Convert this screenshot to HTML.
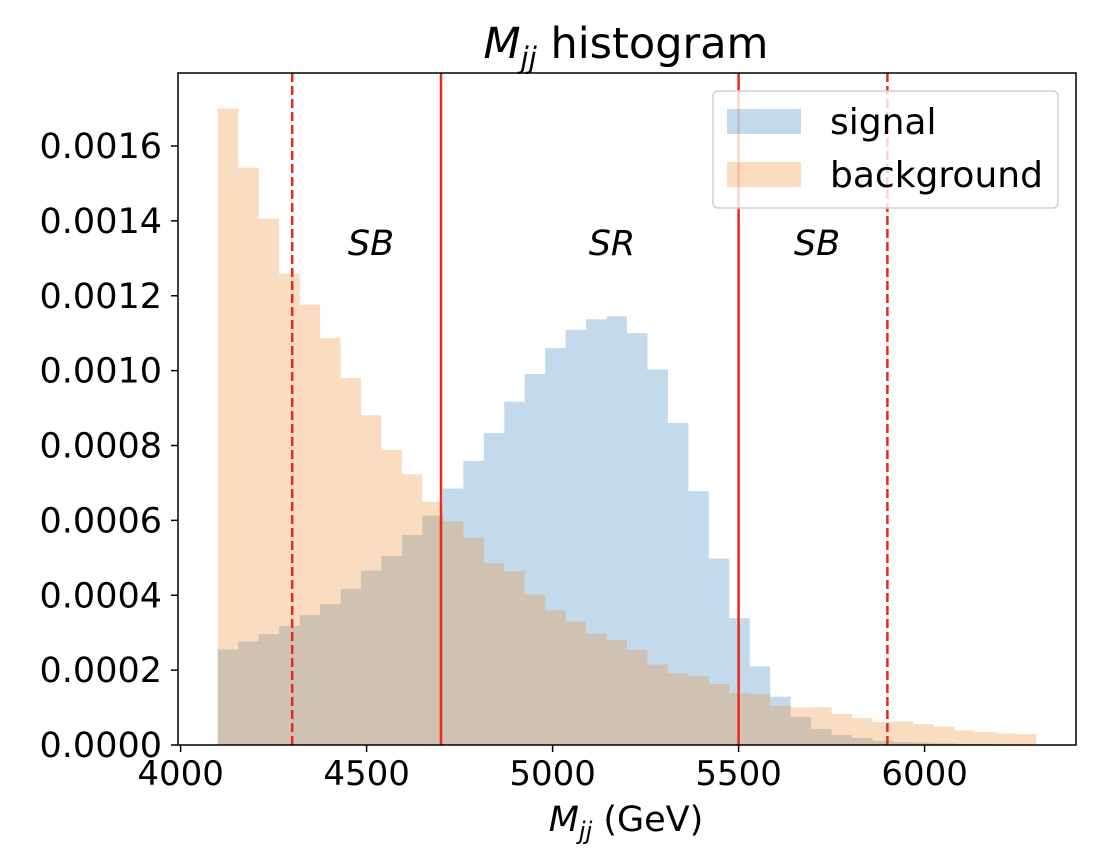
<!DOCTYPE html>
<html><head><meta charset="utf-8"><style>
html,body{margin:0;padding:0;background:#fff;}
svg text{font-family:"DejaVu Sans","Liberation Sans",sans-serif;fill:#000;}
</style></head><body>
<svg id="chart" width="1104" height="860" viewBox="0 0 1104 860" xmlns="http://www.w3.org/2000/svg">
<g id="bars"></g>
<g id="lines"></g>
<g id="axes"></g>
<text x="626" y="58" font-size="43" text-anchor="middle"><tspan font-style="italic">M</tspan><tspan font-style="italic" font-size="29" dy="10">jj</tspan><tspan dy="-10"> histogram</tspan></text>
<text x="626" y="831" font-size="35" text-anchor="middle"><tspan font-style="italic">M</tspan><tspan font-style="italic" font-size="24" dy="8">jj</tspan><tspan dy="-8"> (GeV)</tspan></text>
<text x="371" y="255" font-size="35" font-style="italic" text-anchor="middle">SB</text>
<text x="612" y="255" font-size="35" font-style="italic" text-anchor="middle">SR</text>
<text x="817" y="255" font-size="35" font-style="italic" text-anchor="middle">SB</text>
<g>
<rect x="713" y="91" width="345" height="117" rx="5" fill="#fff" fill-opacity="0.8" stroke="#d0d0d0" stroke-width="1.5"/>
<rect x="727" y="109" width="74" height="25" fill="#1f77b4" fill-opacity="0.27"/>
<text x="830" y="134" font-size="36">signal</text>
<rect x="727" y="162" width="74" height="25" fill="#f08a30" fill-opacity="0.3"/>
<text x="830" y="187" font-size="36">background</text>
</g>
</svg>
<script>
const binStart = 4100;
const binWidth = 55;
const background = [0.0017,0.001542,0.001406,0.001259,0.001176,0.001087,0.00098,0.000881,0.000788,0.000723,0.00065,0.000598,0.000553,0.000486,0.000464,0.000402,0.00036,0.00033,0.000298,0.00028,0.000254,0.000215,0.000192,0.000185,0.000163,0.000139,0.000136,0.000105,0.0001,0.000101,0.0000828,0.0000721,0.0000614,0.0000632,0.000056,0.000049,0.000039,0.000035,0.000031,0.000029];
const signal = [0.000255,0.000277,0.000296,0.000318,0.000347,0.000376,0.000417,0.000466,0.000505,0.000561,0.000613,0.000685,0.000759,0.000833,0.000917,0.000991,0.00106,0.001109,0.001137,0.001145,0.0011,0.001003,0.00086,0.000678,0.000498,0.000339,0.00021,0.000129,0.0000748,0.0000427,0.0000267,0.0000187,0.0000107,0.000008,0.000006,0.0000045,0.000003,0.000002,0.0000015,0.000001];
const xTicks = [4000,4500,5000,5500,6000];
const yTicks = [0,0.0002,0.0004,0.0006,0.0008,0.0010,0.0012,0.0014,0.0016];
const yTickLabels = ["0.0000","0.0002","0.0004","0.0006","0.0008","0.0010","0.0012","0.0014","0.0016"];
const solidLines = [4700,5500];
const dashedLines = [4300,5900];

const L=178,R=1076,T=73,B=745, xMin=3993,xMax=6407,yMax=0.001795;
const X=v=>L+(v-xMin)/(xMax-xMin)*(R-L);
const Y=v=>B-v/yMax*(B-T);
const NS="http://www.w3.org/2000/svg";
function mk(tag,attrs,parent){const e=document.createElementNS(NS,tag);for(const k in attrs)e.setAttribute(k,attrs[k]);parent.appendChild(e);return e;}
const bars=document.getElementById('bars'),lines=document.getElementById('lines'),axes=document.getElementById('axes');
function drawSeries(arr,color,op,name){
  arr.forEach((v,i)=>{
    const x0=X(binStart+i*binWidth),x1=X(binStart+(i+1)*binWidth);
    const r=mk('rect',{x:x0,y:Y(v),width:x1-x0,height:B-Y(v),fill:color,'fill-opacity':op},bars);
    
    
  });
}
drawSeries(signal,'#1f77b4',0.27,'signal');
drawSeries(background,'#f08a30',0.3,'background');
solidLines.forEach(v=>{
  const l=mk('line',{x1:X(v),x2:X(v),y1:T,y2:B,stroke:'#e8291c','stroke-width':2.5},lines);
  
  
});
dashedLines.forEach(v=>{
  const l=mk('line',{x1:X(v),x2:X(v),y1:T,y2:B,stroke:'#e8291c','stroke-width':2.5,'stroke-dasharray':'9,4'},lines);
  
  
});
const f=mk('rect',{x:L,y:T,width:R-L,height:B-T,fill:'none',stroke:'#000','stroke-width':1.5},axes);


xTicks.forEach(v=>{
  mk('line',{x1:X(v),x2:X(v),y1:B,y2:B+7,stroke:'#000','stroke-width':1.5},axes);
  const t=mk('text',{x:X(v),y:B+40,'font-size':34,'text-anchor':'middle'},axes);
  t.textContent=v;
  
  
});
yTicks.forEach((v,i)=>{
  mk('line',{x1:L-7,x2:L,y1:Y(v),y2:Y(v),stroke:'#000','stroke-width':1.5},axes);
  const t=mk('text',{x:L-16,y:Y(v)+12,'font-size':35,'text-anchor':'end'},axes);
  t.textContent=yTickLabels[i];
  
  
});
</script>
</body></html>
